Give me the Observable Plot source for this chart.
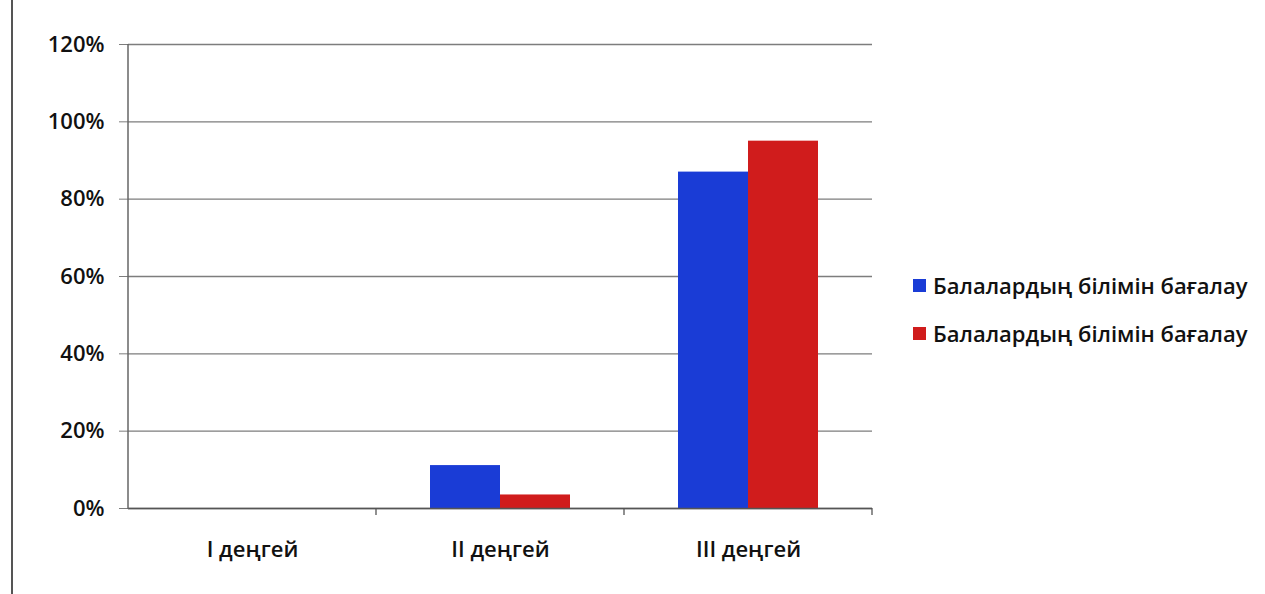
<!DOCTYPE html>
<html>
<head>
<meta charset="utf-8">
<script src="https://cdn.jsdelivr.net/npm/d3@7"></script>
<script src="https://cdn.jsdelivr.net/npm/@observablehq/plot@0.6"></script>
<style>
  html, body { margin:0; padding:0; background:#fff; }
  #wrap { position:relative; width:1265px; height:594px; overflow:hidden; font-family:"Open Sans", "Noto Sans", sans-serif; }
  #border { position:absolute; left:11px; top:0; width:0; height:594px; border-left:2px solid #555; }
  #legend { position:absolute; left:913px; top:261px; font-weight:600; font-size:22px; color:#111; }
  #legend .row { display:flex; align-items:center; height:48px; }
  #legend .sw { width:13px; height:13px; margin-right:7px; }
</style>
</head>
<body>
<div id="wrap">
  <div id="border"></div>
  <div id="chart"></div>
  <div id="legend"></div>
</div>
<script>
const categories = ["I деңгей", "II деңгей", "III деңгей"];
const seriesKeys = ["s1", "s2"];
const seriesNames = ["Балалардың білімін бағалау", "Балалардың білімін бағалау"];
const seriesColors = ["#1a3cd6", "#d01c1c"];
const blueValues = [0, 0.111, 0.87];
const redValues = [0, 0.035, 0.95];
const yTicks = [0, 0.2, 0.4, 0.6, 0.8, 1.0, 1.2];

const data = [];
categories.forEach((c, i) => {
  data.push({cat: c, key: seriesKeys[0], value: blueValues[i]});
  data.push({cat: c, key: seriesKeys[1], value: redValues[i]});
});

const plot = Plot.plot({
  width: 1265,
  height: 594,
  marginLeft: 127,
  marginRight: 393,
  marginTop: 44,
  marginBottom: 86,
  style: {fontFamily: "'Open Sans', 'Noto Sans', sans-serif", background: "transparent"},
  fx: {domain: categories, padding: 0, label: null},
  x: {domain: seriesKeys, paddingInner: 0, paddingOuter: 0.77, axis: null},
  y: {domain: [0, 1.2], label: null},
  color: {domain: seriesKeys, range: seriesColors},
  marks: [
    Plot.gridY(yTicks, {stroke: "#7d7d7d", strokeOpacity: 1, strokeWidth: 1.3}),
    Plot.barY(data, {fx: "cat", x: "key", y: "value", fill: "key"}),
    Plot.ruleY([0], {stroke: "#555", strokeWidth: 1.5}),
    Plot.axisY(yTicks, {tickFormat: d3.format(".0%"), tickSize: 9, tickPadding: 15, stroke: "#7d7d7d", fontSize: 22, fontWeight: 600, fill: "#111", label: null}),
    Plot.axisFx({anchor: "bottom", tickSize: 0, tickPadding: 33, fontSize: 22, fontWeight: 600, fill: "#111", label: null})
  ]
});
document.getElementById("chart").appendChild(plot);

// axis line and category separator ticks from Plot's scales
const svg = d3.select(plot);
const fx = plot.scale("fx");
const y = plot.scale("y");
const y0 = y.apply(0), yTop = y.apply(1.2);
const step = fx.bandwidth !== undefined ? fx.bandwidth : (fx.range[1]-fx.range[0])/categories.length;
const lefts = categories.map(c => fx.apply(c));
svg.append("line").attr("x1", lefts[0]).attr("x2", lefts[0]).attr("y1", yTop).attr("y2", y0 + 1)
  .attr("stroke", "#666").attr("stroke-width", 1.5);
const bounds = lefts.slice(1).concat([lefts[lefts.length-1] + step]);
bounds.forEach(b => {
  svg.append("line").attr("x1", b).attr("x2", b).attr("y1", y0).attr("y2", y0 + 7)
    .attr("stroke", "#555").attr("stroke-width", 1.3);
});

const legend = document.getElementById("legend");
seriesNames.forEach((n, i) => {
  const row = document.createElement("div");
  row.className = "row";
  row.innerHTML = `<div class="sw" style="background:${seriesColors[i]}"></div><span>${n}</span>`;
  legend.appendChild(row);
});
</script>
</body>
</html>
